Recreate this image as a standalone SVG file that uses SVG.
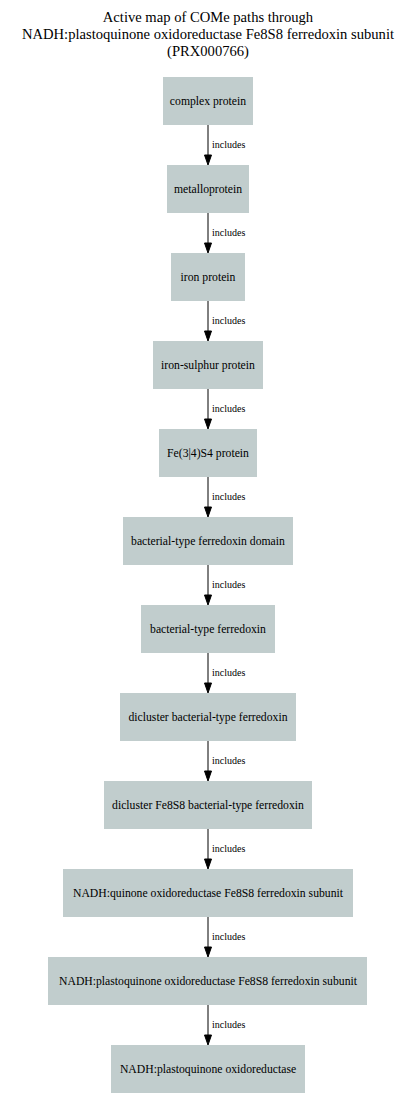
<svg xmlns="http://www.w3.org/2000/svg" width="412" height="1110" viewBox="0 0 412 1110">
<style>
.bg{fill:#ffffff}
.title{font-family:"Liberation Serif","Times New Roman",serif;font-size:14.6px;fill:#000;text-anchor:middle}
.node rect{fill:#c1cdcd;stroke:none}
.node text{font-family:"Liberation Serif","Times New Roman",serif;font-size:11.7px;fill:#000;text-anchor:middle}
.edge line{stroke:#000;stroke-width:1}
.edge polygon{fill:#000;stroke:#000;stroke-width:1}
.edge text{font-family:"Liberation Serif","Times New Roman",serif;font-size:10px;fill:#000}
</style>
<rect class="bg" x="0" y="0" width="412" height="1110"/>
<g id="title">
<text class="title" x="208" y="22">Active map of COMe paths through</text>
<text class="title" x="208" y="39">NADH:plastoquinone oxidoreductase Fe8S8 ferredoxin subunit</text>
<text class="title" x="208" y="56">(PRX000766)</text>
</g>
<g id="connectors" class="edge">
<line x1="208" y1="125" x2="208" y2="155"/><polygon points="204.5,155 211.5,155 208,165"/><text x="212" y="148">includes</text>
<line x1="208" y1="213" x2="208" y2="243"/><polygon points="204.5,243 211.5,243 208,253"/><text x="212" y="236">includes</text>
<line x1="208" y1="301" x2="208" y2="331"/><polygon points="204.5,331 211.5,331 208,341"/><text x="212" y="324">includes</text>
<line x1="208" y1="389" x2="208" y2="419"/><polygon points="204.5,419 211.5,419 208,429"/><text x="212" y="412">includes</text>
<line x1="208" y1="477" x2="208" y2="507"/><polygon points="204.5,507 211.5,507 208,517"/><text x="212" y="500">includes</text>
<line x1="208" y1="565" x2="208" y2="595"/><polygon points="204.5,595 211.5,595 208,605"/><text x="212" y="588">includes</text>
<line x1="208" y1="653" x2="208" y2="683"/><polygon points="204.5,683 211.5,683 208,693"/><text x="212" y="676">includes</text>
<line x1="208" y1="741" x2="208" y2="771"/><polygon points="204.5,771 211.5,771 208,781"/><text x="212" y="764">includes</text>
<line x1="208" y1="829" x2="208" y2="859"/><polygon points="204.5,859 211.5,859 208,869"/><text x="212" y="852">includes</text>
<line x1="208" y1="917" x2="208" y2="947"/><polygon points="204.5,947 211.5,947 208,957"/><text x="212" y="940">includes</text>
<line x1="208" y1="1005" x2="208" y2="1035"/><polygon points="204.5,1035 211.5,1035 208,1045"/><text x="212" y="1028">includes</text>
</g>
<g id="n1" class="node"><rect x="163" y="77" width="90" height="48"/><text x="208" y="105">complex protein</text></g>
<g id="n2" class="node"><rect x="167" y="165" width="82" height="48"/><text x="208" y="193">metalloprotein</text></g>
<g id="n3" class="node"><rect x="171" y="253" width="74" height="48"/><text x="208" y="281">iron protein</text></g>
<g id="n4" class="node"><rect x="153" y="341" width="110" height="48"/><text x="208" y="369">iron-sulphur protein</text></g>
<g id="n5" class="node"><rect x="159" y="429" width="98" height="48"/><text x="208" y="457">Fe(3|4)S4 protein</text></g>
<g id="n6" class="node"><rect x="123" y="517" width="170" height="48"/><text x="208" y="545">bacterial-type ferredoxin domain</text></g>
<g id="n7" class="node"><rect x="141" y="605" width="134" height="48"/><text x="208" y="633">bacterial-type ferredoxin</text></g>
<g id="n8" class="node"><rect x="120" y="693" width="176" height="48"/><text x="208" y="721">dicluster bacterial-type ferredoxin</text></g>
<g id="n9" class="node"><rect x="104" y="781" width="208" height="48"/><text x="208" y="809">dicluster Fe8S8 bacterial-type ferredoxin</text></g>
<g id="n10" class="node"><rect x="63" y="869" width="290" height="48"/><text x="208" y="897">NADH:quinone oxidoreductase Fe8S8 ferredoxin subunit</text></g>
<g id="n11" class="node"><rect x="48" y="957" width="319" height="48"/><text x="208" y="985">NADH:plastoquinone oxidoreductase Fe8S8 ferredoxin subunit</text></g>
<g id="n12" class="node"><rect x="111" y="1045" width="194" height="48"/><text x="208" y="1073">NADH:plastoquinone oxidoreductase</text></g>
</svg>
